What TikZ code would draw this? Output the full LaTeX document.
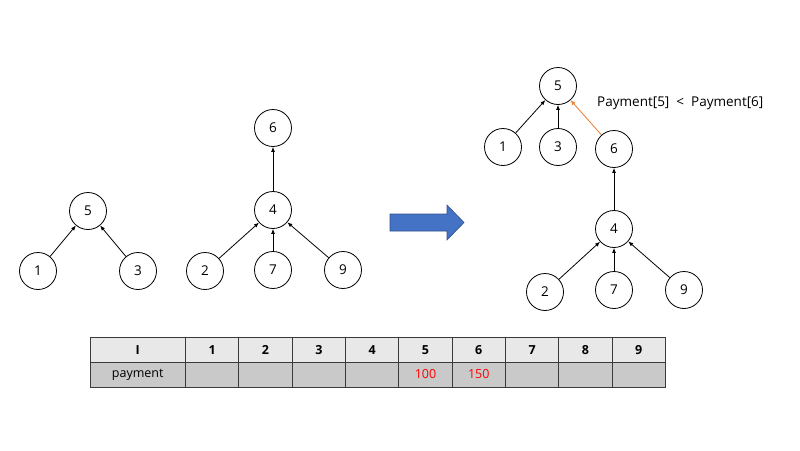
\documentclass[tikz,border=0pt]{standalone}
\usepackage{fontspec}
\setmainfont{Open Sans}
\usetikzlibrary{arrows.meta}

\definecolor{arrowblue}{HTML}{4472C4}
\definecolor{arrowedge}{HTML}{2F528F}
\definecolor{swaporange}{HTML}{ED7D31}
\definecolor{headgray}{HTML}{E8E8E8}
\definecolor{bodygray}{HTML}{C9C9C9}
\definecolor{gridgray}{HTML}{3A3A3A}
\definecolor{valred}{HTML}{FF0000}

\tikzset{
  vertex/.style={draw, circle, minimum size=37pt, inner sep=0pt, line width=0.8pt, font=\fontsize{13.5}{15}\selectfont},
  edge/.style={-{Latex[length=5pt,width=4pt]}, line width=0.8pt},
  cell/.style={font=\fontsize{12.5}{14}\selectfont},
  headcell/.style={font=\fontsize{12.5}{14}\selectfont\bfseries},
}

\begin{document}
\begin{tikzpicture}[x=1pt,y=-1pt]
  \useasboundingbox (0,0) rectangle (800,450);

  % first tree
  \node[vertex] (a5) at (88,211) {5};
  \node[vertex] (a1) at (38,271) {1};
  \node[vertex] (a3) at (138,271) {3};
  \draw[edge] (a1) -- (a5);
  \draw[edge] (a3) -- (a5);

  % second tree
  \node[vertex] (b6) at (273,128) {6};
  \node[vertex] (b4) at (273,210) {4};
  \node[vertex] (b2) at (205,271) {2};
  \node[vertex] (b7) at (273,270) {7};
  \node[vertex] (b9) at (343,270) {9};
  \draw[edge] (b4) -- (b6);
  \draw[edge] (b2) -- (b4);
  \draw[edge] (b7) -- (b4);
  \draw[edge] (b9) -- (b4);

  % block arrow
  \filldraw[fill=arrowblue, draw=arrowedge, line width=0.6pt]
    (390,214) -- (447,214) -- (447,205) -- (464,222.5) -- (447,240)
    -- (447,231) -- (390,231) -- cycle;

  % merged tree
  \node[vertex] (c5) at (558,86) {5};
  \node[vertex] (c1) at (503,147) {1};
  \node[vertex] (c3) at (558,147) {3};
  \node[vertex] (c6) at (614,149) {6};
  \node[vertex] (c4) at (614,229) {4};
  \node[vertex] (c2) at (545,292) {2};
  \node[vertex] (c7) at (614,290) {7};
  \node[vertex] (c9) at (684,290) {9};
  \draw[edge] (c1) -- (c5);
  \draw[edge] (c3) -- (c5);
  \draw[edge, swaporange] (c6) -- (c5);
  \draw[edge] (c4) -- (c6);
  \draw[edge] (c2) -- (c4);
  \draw[edge] (c7) -- (c4);
  \draw[edge] (c9) -- (c4);
  \node[anchor=west, inner sep=0pt, font=\fontsize{13.5}{15}\selectfont] (cmp) at (597,103)
    {Payment[5]\ \ <\ \ Payment[6]};

  % table
  \fill[headgray] (90,337.5) rectangle (665.5,362);
  \fill[bodygray] (90,362) rectangle (665.5,387);
  \draw[gridgray, line width=0.9pt] (90,337.5) rectangle (665.5,387);
  \draw[gridgray, line width=0.9pt] (90,362) -- (665.5,362);
  \draw[gridgray, line width=0.9pt] (185.5,337.5) -- (185.5,387);
  \foreach \i in {1,...,8}
    \draw[gridgray, line width=0.9pt] (185.5+53.33*\i,337.5) -- (185.5+53.33*\i,387);
  \node[headcell] (hI) at (137.75,349.75) {I};
  \node[cell] (hpay) at (137.75,374.5) {payment};
  \foreach \i in {1,...,9}
    \node[headcell] (h\i) at (185.5+53.33*\i-26.67,349.75) {\i};
  \node[cell, valred] (v5) at (185.5+53.33*5-26.67,374.5) {100};
  \node[cell, valred] (v6) at (185.5+53.33*6-26.67,374.5) {150};

\end{tikzpicture}
\end{document}
